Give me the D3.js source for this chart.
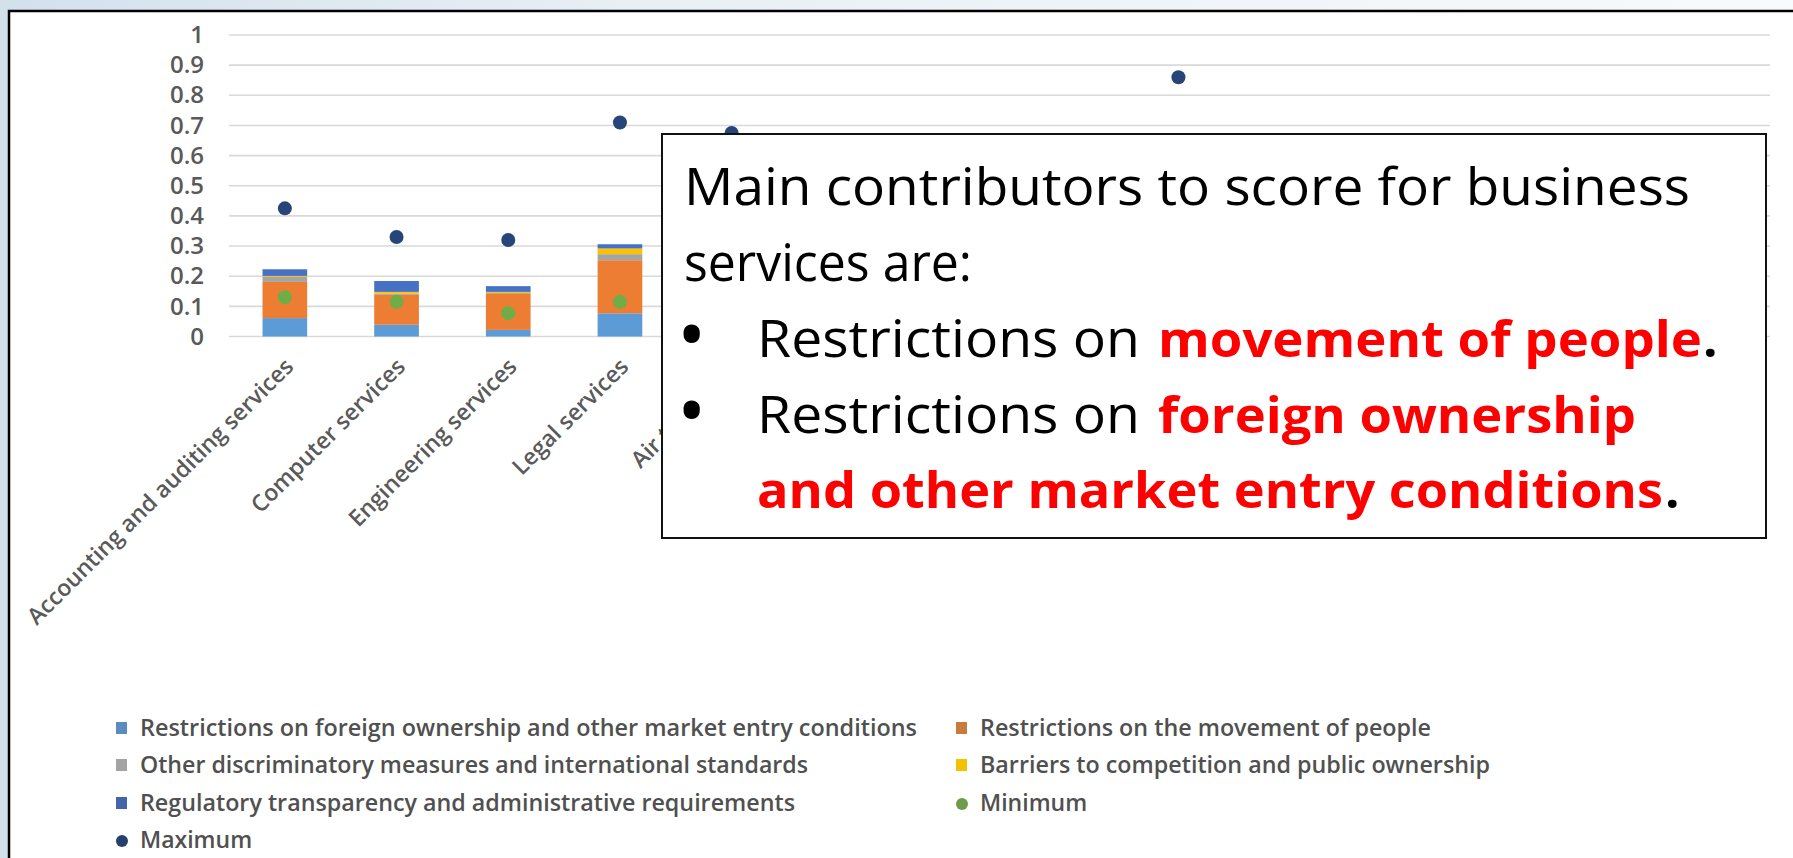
<!DOCTYPE html>
<html><head><meta charset="utf-8">
<script src="https://cdn.jsdelivr.net/npm/d3@7"></script>
<style>html,body{margin:0;padding:0;background:#fff;overflow:hidden}</style>
</head><body>
<svg id="c" width="1793" height="858"></svg>
<script>
// ---- data (hidden categories are estimates) ----
const categories = ["Accounting and auditing services","Computer services","Engineering services","Legal services",
  "Air transport","Maritime transport","Courier services","Rail freight transport","Commercial banking",
  "Insurance","Broadcasting","Motion pictures","Telecommunications","Construction"];
const foreignOwnership      = [0.061,0.039,0.022,0.077,0.18,0.12,0.10,0.08,0.10,0.12,0.20,0.10,0.12,0.06];
const movementOfPeople      = [0.120,0.099,0.119,0.176,0.05,0.04,0.04,0.03,0.05,0.05,0.05,0.05,0.03,0.08];
const otherDiscriminatory   = [0.017,0.004,0.003,0.020,0.02,0.02,0.01,0.02,0.03,0.03,0.03,0.03,0.02,0.02];
const barriersCompetition   = [0.003,0.006,0.004,0.019,0.07,0.04,0.12,0.15,0.02,0.03,0.05,0.02,0.06,0.02];
const regulatoryTransparency= [0.022,0.036,0.019,0.014,0.03,0.03,0.03,0.03,0.04,0.04,0.03,0.03,0.04,0.04];
const minimumScore          = [0.13,0.115,0.077,0.115,0.14,0.10,0.12,0.10,0.10,0.10,0.15,0.08,0.10,0.10];
const maximumScore          = [0.425,0.33,0.32,0.71,0.675,0.50,0.60,0.62,0.86,0.55,0.60,0.50,0.60,0.40];
const yTicks      = [0,0.1,0.2,0.3,0.4,0.5,0.6,0.7,0.8,0.9,1];
const yTickLabels = ["0","0.1","0.2","0.3","0.4","0.5","0.6","0.7","0.8","0.9","1"];
const seriesNames = ["Restrictions on foreign ownership and other market entry conditions",
  "Restrictions on the movement of people","Other discriminatory measures and international standards",
  "Barriers to competition and public ownership","Regulatory transparency and administrative requirements",
  "Minimum","Maximum"];
const boxLines = ["Main contributors to score for business","services are:","Restrictions on","movement of people",
  "Restrictions on","foreign ownership","and other market entry conditions"];

// ---- styling ----
const barColors = ["#5B9BD5","#ED7D31","#A5A5A5","#FFC000","#4472C4"];
const legendColors = ["#5b8cc0","#c97a3e","#a3a3a3","#f2c200","#4364ab","#6c9c4a","#26406c"];
const minColor = "#70AD47", maxColor = "#264478";
const FONT = "'Open Sans', 'Noto Sans', sans-serif";

const svg = d3.select("#c");
const defs = svg.append("defs");
const g1 = defs.append("linearGradient").attr("id","bg").attr("x1","0").attr("x2","1").attr("y1","0").attr("y2","0");
g1.append("stop").attr("offset","0").attr("stop-color","#d3e1ed");
g1.append("stop").attr("offset","0.35").attr("stop-color","#e8eff5");
g1.append("stop").attr("offset","1").attr("stop-color","#f8fafc");
defs.append("filter").attr("id","soft").append("feGaussianBlur").attr("stdDeviation",0.7);

svg.append("rect").attr("width",1793).attr("height",858).attr("fill","url(#bg)");
svg.append("rect").attr("x",9).attr("y",11).attr("width",1820).attr("height",900)
  .attr("fill","#fff").attr("stroke","#000").attr("stroke-width",2.5);

// ---- scales ----
const x = d3.scaleBand().domain(categories).range([229, 229 + 14*111.7]).paddingInner(0.6).paddingOuter(0.3);
const y = d3.scaleLinear().domain([0,1]).range([336.5, 35]);

// gridlines
svg.append("g").selectAll("line").data(yTicks).join("line")
  .attr("x1",229).attr("x2",1770).attr("y1",d=>y(d)).attr("y2",d=>y(d))
  .attr("stroke","#d9d9d9").attr("stroke-width",1.6);

// y axis
const yAxis = d3.axisLeft(y).tickValues(yTicks).tickSize(0).tickPadding(0)
  .tickFormat((d,i)=>yTickLabels[i]);
const ya = svg.append("g").attr("transform","translate(204,0)").call(yAxis);
ya.select(".domain").remove();
ya.selectAll("text").attr("font-family",FONT).attr("font-size",24).attr("fill","#595959").attr("font-weight",600);

// stacked bars
const table = categories.map((c,i)=>({cat:c, f:foreignOwnership[i], p:movementOfPeople[i],
  o:otherDiscriminatory[i], b:barriersCompetition[i], r:regulatoryTransparency[i]}));
const keys = ["f","p","o","b","r"];
const stacked = d3.stack().keys(keys)(table);
const bars = svg.append("g").attr("filter","url(#soft)");
stacked.forEach((s,k)=>{
  bars.append("g").attr("fill",barColors[k]).selectAll("rect").data(s).join("rect")
    .attr("x",d=>x(d.data.cat)).attr("width",x.bandwidth())
    .attr("y",d=>y(d[1])).attr("height",d=>y(d[0])-y(d[1]));
});
// min / max markers
bars.append("g").selectAll("circle").data(categories).join("circle")
  .attr("cx",d=>x(d)+x.bandwidth()/2).attr("cy",(d,i)=>y(minimumScore[i])).attr("r",7).attr("fill",minColor);
bars.append("g").selectAll("circle").data(categories).join("circle")
  .attr("cx",d=>x(d)+x.bandwidth()/2).attr("cy",(d,i)=>y(maximumScore[i])).attr("r",7).attr("fill",maxColor);

// category labels
svg.append("g").selectAll("text").data(categories).join("text")
  .attr("transform",d=>`translate(${x(d)+x.bandwidth()/2+10},368) rotate(-45)`)
  .attr("text-anchor","end").attr("font-family",FONT).attr("font-size",23).attr("font-weight",600)
  .attr("fill","#5a5a5a").text(d=>d);

// legend
const legendItems = [
  {i:0,x:122,y:728,len:787},{i:1,x:962,y:728,len:461},
  {i:2,x:122,y:765,len:678},{i:3,x:962,y:765,len:520},
  {i:4,x:122,y:803,len:665},{i:5,x:962,y:803,len:null},
  {i:6,x:122,y:840,len:null}];
const lg = svg.append("g");
legendItems.forEach(it=>{
  if (it.i < 5) {
    lg.append("rect").attr("x",it.x-6).attr("y",it.y-6).attr("width",11).attr("height",12).attr("fill",legendColors[it.i]);
  } else {
    lg.append("circle").attr("cx",it.x).attr("cy",it.y+1).attr("r",6).attr("fill",legendColors[it.i]);
  }
  const t = lg.append("text").attr("x",it.x+18).attr("y",it.y).attr("dy","0.35em")
    .attr("font-family",FONT).attr("font-size",23).attr("font-weight",600).attr("fill","#505050").text(seriesNames[it.i]);
  if (it.len) t.attr("textLength",it.len-10).attr("lengthAdjust","spacingAndGlyphs");
});

// annotation box
svg.append("rect").attr("x",662).attr("y",134).attr("width",1104).attr("height",404)
  .attr("fill","#fff").attr("stroke","#111").attr("stroke-width",2);
const bx = svg.append("g").attr("font-family",FONT).attr("font-size",51);
function seg(txt,x0,yb,len,bold,color,size){
  const t = bx.append("text").attr("x",x0).attr("y",yb).attr("fill",color)
    .attr("font-weight",bold?700:400).text(txt);
  if (size) t.attr("font-size",size);
  if (len) t.attr("textLength",len).attr("lengthAdjust","spacingAndGlyphs");
  return t;
}
seg(boxLines[0],684,205,1006,false,"#000");
seg(boxLines[1],684,281,288,false,"#000");
seg("•",677,363,null,false,"#000",78);
seg(boxLines[2],757,357,383,false,"#000");
seg(boxLines[3],1158,357,544,true,"#ff0000");
seg(".",1703,357,null,true,"#000");
seg("•",677,439,null,false,"#000",78);
seg(boxLines[4],757,433,383,false,"#000");
seg(boxLines[5],1158,433,478,true,"#ff0000");
seg(boxLines[6],757,508,906,true,"#ff0000");
seg(".",1665,508,null,true,"#000");
</script>
</body></html>
